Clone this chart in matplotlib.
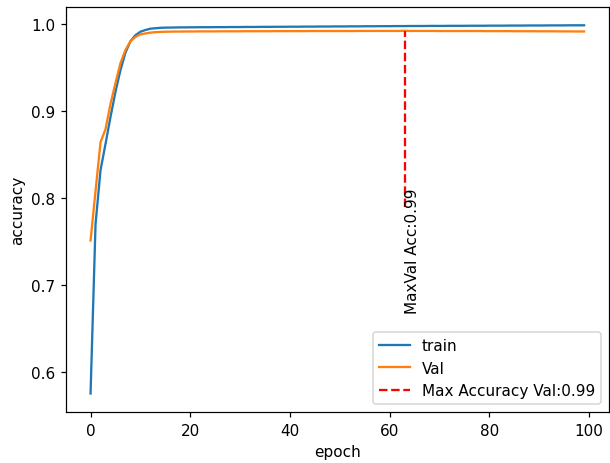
import numpy as np
import matplotlib
matplotlib.use("Agg")
import matplotlib.pyplot as plt

# accuracy per epoch
train_acc = [0.575, 0.770, 0.832, 0.862, 0.893, 0.922, 0.947, 0.967, 0.980, 0.987,
             0.991, 0.993, 0.9945, 0.9950, 0.9955, 0.9957, 0.9958, 0.9959, 0.9960, 0.9960,
             0.9961, 0.9961, 0.9962, 0.9962, 0.9962, 0.9963, 0.9963, 0.9963, 0.9964, 0.9964,
             0.9964, 0.9965, 0.9965, 0.9965, 0.9966, 0.9966, 0.9966, 0.9967, 0.9967, 0.9967,
             0.9968, 0.9968, 0.9968, 0.9969, 0.9969, 0.9969, 0.9970, 0.9970, 0.9970, 0.9971,
             0.9971, 0.9971, 0.9972, 0.9972, 0.9972, 0.9973, 0.9973, 0.9973, 0.9974, 0.9974,
             0.9974, 0.9975, 0.9975, 0.9975, 0.9976, 0.9976, 0.9976, 0.9976, 0.9977, 0.9977,
             0.9977, 0.9977, 0.9978, 0.9978, 0.9978, 0.9978, 0.9979, 0.9979, 0.9979, 0.9979,
             0.9980, 0.9980, 0.9980, 0.9980, 0.9981, 0.9981, 0.9981, 0.9981, 0.9982, 0.9982,
             0.9982, 0.9982, 0.9983, 0.9983, 0.9983, 0.9983, 0.9984, 0.9984, 0.9984, 0.9984]
val_acc = [0.751, 0.808, 0.864, 0.879, 0.908, 0.932, 0.955, 0.970, 0.980, 0.985,
           0.988, 0.989, 0.990, 0.9905, 0.9908, 0.9910, 0.9911, 0.9912, 0.9912, 0.9913,
           0.9913, 0.9913, 0.9914, 0.9914, 0.9914, 0.9914, 0.9915, 0.9915, 0.9915, 0.9915,
           0.9915, 0.9916, 0.9916, 0.9916, 0.9916, 0.9916, 0.9916, 0.9917, 0.9917, 0.9917,
           0.9917, 0.9917, 0.9917, 0.9917, 0.9918, 0.9918, 0.9918, 0.9918, 0.9918, 0.9918,
           0.9918, 0.9918, 0.9918, 0.9918, 0.9919, 0.9919, 0.9919, 0.9919, 0.9919, 0.9919,
           0.9919, 0.9919, 0.9919, 0.9922, 0.9919, 0.9919, 0.9919, 0.9919, 0.9919, 0.9919,
           0.9918, 0.9918, 0.9918, 0.9918, 0.9918, 0.9918, 0.9918, 0.9918, 0.9918, 0.9917,
           0.9917, 0.9917, 0.9917, 0.9917, 0.9917, 0.9916, 0.9916, 0.9916, 0.9916, 0.9916,
           0.9915, 0.9915, 0.9915, 0.9915, 0.9914, 0.9914, 0.9914, 0.9913, 0.9913, 0.9913]
epochs = np.arange(len(train_acc))

best = int(np.argmax(val_acc))
best_acc = val_acc[best]

fig = plt.figure(figsize=(610 / 110, 464 / 110), dpi=110)
plt.subplots_adjust(left=0.108, right=0.998, bottom=0.110, top=0.983)
plt.plot(epochs, train_acc, label='train')
plt.plot(epochs, val_acc, label='Val')
plt.vlines(best, 0.79, best_acc, colors='r', linestyles='--',
           label='Max Accuracy Val:%.2f' % best_acc)
plt.text(best, 0.668, 'MaxVal Acc:%.2f' % best_acc, rotation=90,
         ha='left', va='bottom')
plt.xlabel('epoch')
plt.ylabel('accuracy')
plt.legend(loc='lower right')
plt.savefig('out.png', dpi=110)
